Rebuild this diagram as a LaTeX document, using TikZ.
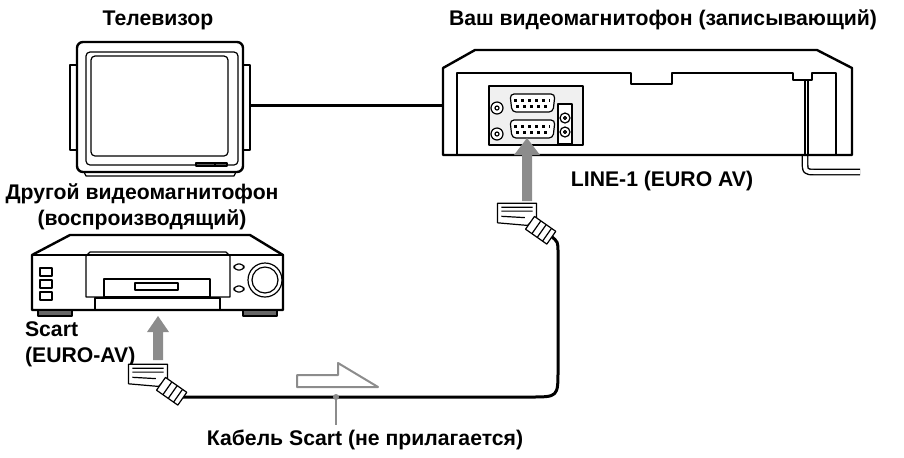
\documentclass[tikz,border=0pt]{standalone}
\usepackage{fontspec}
\setmainfont{Liberation Sans}
\begin{document}
\begin{tikzpicture}[x=0.5pt,y=-0.5pt,line join=round,
  body/.style={draw, line width=1.2pt, fill=white},
  thin/.style={draw, line width=0.6pt},
  lbl/.style={font=\bfseries\fontsize{10.6}{13}\selectfont},
  push/.style={draw=none, fill=black!45},
  cable/.style={line width=1.5pt}]
  \useasboundingbox (0,0) rectangle (904,457);

  % television
  \draw[thin] (70,65) rectangle (77,150);
  \draw[thin] (243,65) rectangle (250,150);
  \draw[thin] (84,172) -- (86,176) -- (234,176) -- (236,172);
  \draw[body, rounded corners=3] (77,42) rectangle (243,172);
  \draw[thin, rounded corners=2] (86,52) rectangle (238,165);
  \draw[thin, rounded corners=2] (91,56) rectangle (228,156);
  \draw[thin] (196,163) rectangle (227,166) (215,163) -- (215,166);
  \node[lbl] (tv) at (158,20) {Телевизор};

  % recording VCR, rear view
  \coordinate (rc) at (805,82);
  \draw[cable, double, double distance=2pt, line width=0.7pt] (rc) -- (805,160) .. controls (805,172) .. (815,172) -- (860,172);
  \draw[body] (443,155) -- (443,68) -- (475,50) -- (817,50) -- (852,68) -- (852,155) -- cycle;
  \draw[thin] (457,155) -- (457,73) -- (631,73) -- (631,84) -- (672,84) -- (672,73) -- (793,73) -- (793,80) -- (812,80) -- (812,73) -- (836,73) -- (836,155);
  \draw[thin] (805,80) -- (805,155) (808,80) -- (808,155);
  \draw[thin, fill=black!6] (489,86) rectangle (583,145);
  \foreach \y in {94,120} {
    \draw[thin, fill=white, rounded corners=2] (510,\y) -- (555,\y) -- (553,\y+18) -- (512,\y+18) -- cycle;
    \draw[line width=1.5pt, dotted] (514,\y+6) -- (550,\y+6) (516,\y+12) -- (548,\y+12);
  }
  \foreach \y in {108,134} \draw[thin, fill=white] (497,\y) circle (6) (497,\y) circle (2);
  \draw[thin, fill=white] (558,104) rectangle (572,144);
  \foreach \y in {118,132} \draw[thin] (565,\y) circle (5) (565,\y) circle (1.5);
  \node[lbl] (rec) at (663,20) {Ваш видеомагнитофон (записывающий)};
  \node[lbl] (line) at (662,181) {LINE-1 (EURO AV)};

  % connecting line TV -- VCR
  \draw[cable] (250,105) -- (443,105);

  % playback VCR
  \draw[body] (32,310) -- (32,255) -- (70,235) -- (250,235) -- (283,255) -- (283,310) -- cycle;
  \draw[thin] (32,255) -- (283,255);
  \draw[thin, fill=black!60] (38,310) rectangle (72,316) (243,310) rectangle (277,316);
  \draw[thin] (86,297) -- (86,256) -- (90,252) -- (226,252) -- (230,256) -- (230,297) -- cycle;
  \draw[thin] (95,298) rectangle (220,310);
  \draw[thin] (104,279) rectangle (210,297);
  \draw[thin] (135,283) rectangle (178,290);
  \foreach \y in {268,280,292} \draw[thin] (40,\y) rectangle (52,\y+8);
  \draw[thin, rounded corners=2] (234,264) rectangle (244,270) (234,286) rectangle (244,292);
  \draw[thin] (265,280) circle (17) (265,280) circle (13);
  \node[lbl, align=center] (play) at (142,207) {Другой видеомагнитофон\\(воспроизводящий)};
  \node[lbl, align=left, anchor=west] (scart) at (18,344) {Scart\\(EURO-AV)};

  % scart cable
  \coordinate (pl) at (148,376);
  \coordinate (pr) at (517,215);
  \draw[cable] (182,397) -- (530,397) .. controls (558,397) .. (558,370) -- (558,252) .. controls (558,242) .. (551,236);
  \foreach \p in {pl, pr} {
    \begin{scope}[shift={(\p)}, scale=1.3]
      \draw[thin, fill=white] (-15,-9) -- (15,-9) -- (15,2) -- (8,8) -- (-15,6) -- cycle;
      \draw[thin] (-12,-6) -- (12,-6) (-12,-3) -- (12,-3) (-12,1) -- (6,2);
      \begin{scope}[shift={(10,6)}, rotate=-35]
        \draw[thin, fill=white] (0,-6) rectangle (20,6);
        \draw[thin] (6,-6) -- (6,6) (11,-6) -- (11,6) (16,-6) -- (16,6);
      \end{scope}
    \end{scope}
  }
  \draw[push] (153,360) -- (163,360) -- (163,332) -- (169,332) -- (158,316) -- (147,332) -- (153,332) -- cycle;
  \draw[push] (522,201) -- (532,201) -- (532,155) -- (540,155) -- (527,138) -- (514,155) -- (522,155) -- cycle;

  % direction arrow and cable label
  \draw[draw=black!45, line width=1pt] (297,375) -- (297,387) -- (378,387) -- (338,363) -- (338,375) -- cycle;
  \coordinate (tap) at (336,397);
  \fill[black!45] (tap) circle (3);
  \draw[black!45, line width=1pt] (tap) -- (336,425);
  \node[lbl] (cab) at (365,440) {Кабель Scart (не прилагается)};
\end{tikzpicture}
\end{document}
